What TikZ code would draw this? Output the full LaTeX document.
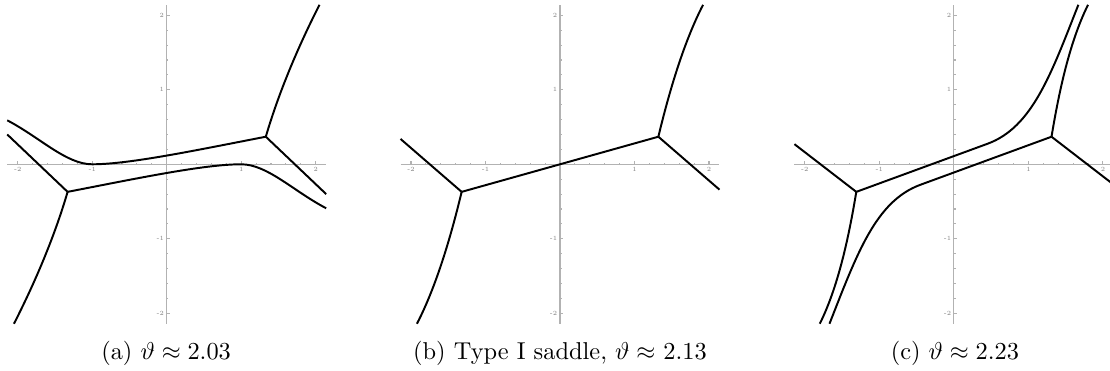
\documentclass[tikz,border=0pt]{standalone}
\usepackage{amsmath}
\usepackage{amssymb}
\usepackage{tikz}

\begin{document}
\begin{tikzpicture}[
  axisline/.style={gray!60, line width=0.45pt},
  curve/.style={black, line width=0.8pt, line join=round},
  ticklab/.style={gray, font=\fontsize{2.6}{3}\selectfont, inner sep=0.3pt}
]
  \useasboundingbox (0,0) rectangle (455.1pt,-152.1pt);

  % axes with ticks, one frame per panel
  \foreach \ox/\p in {68.35pt/a, 229.6pt/b, 391.1pt/c} {
    \begin{scope}[shift={(\ox,-67.36pt)}, x=30.55pt, y=30.55pt]
      \draw[axisline] (-2.14,0) -- (2.14,0);
      \draw[axisline] (0,-2.14) -- (0,2.14);
      \foreach \t in {-2,-1.8,...,2.01} {
        \draw[axisline] (\t,0) -- (\t,0.023);
        \draw[axisline] (0,\t) -- (0.023,\t);
      }
      \foreach \t in {-2,-1,1,2} {
        \draw[axisline] (\t,0) -- (\t,0.045)
          node[ticklab, below] (xl\p\t) at (\t,-0.02) {\t};
        \draw[axisline] (0,\t) -- (0.045,\t)
          node[ticklab, left] (yl\p\t) at (-0.02,\t) {\t};
      }
    \end{scope}
  }

  % panel (a): two separate curves
  \begin{scope}[shift={(68.35pt,-67.36pt)}, x=30.55pt, y=30.55pt]
    \coordinate (Pa) at (1.33,0.37);
    \coordinate (Qa) at (-1.33,-0.37);
    \draw[curve] (Pa) .. controls (1.50,0.95) and (1.75,1.55) .. (2.05,2.14);
    \draw[curve] (Qa) .. controls (-1.50,-0.95) and (-1.75,-1.55) .. (-2.05,-2.14);
    \draw[curve] (Pa) -- (2.14,-0.40);
    \draw[curve] (Qa) -- (-2.14,0.40);
    \draw[curve] (Pa) .. controls (0.4,0.19) and (-0.5,0) .. (-1,0)
      .. controls (-1.35,0) and (-1.7,0.36) .. (-2.14,0.59);
    \draw[curve] (Qa) .. controls (-0.4,-0.19) and (0.5,0) .. (1,0)
      .. controls (1.35,0) and (1.7,-0.36) .. (2.14,-0.59);
  \end{scope}

  % panel (b): saddle, the two joints linked through the origin
  \begin{scope}[shift={(229.6pt,-67.36pt)}, x=30.55pt, y=30.55pt]
    \coordinate (Pb) at (1.32,0.37);
    \coordinate (Qb) at (-1.32,-0.37);
    \draw[curve] (Pb) .. controls (1.44,0.87) and (1.64,1.6) .. (1.92,2.14);
    \draw[curve] (Qb) .. controls (-1.44,-0.87) and (-1.64,-1.6) .. (-1.92,-2.14);
    \draw[curve] (Pb) -- (2.14,-0.34);
    \draw[curve] (Qb) -- (-2.14,0.34);
    \draw[curve] (Qb) -- (Pb);
  \end{scope}

  % panel (c): curves swapped to the other side
  \begin{scope}[shift={(391.1pt,-67.36pt)}, x=30.55pt, y=30.55pt]
    \coordinate (Pc) at (1.31,0.37);
    \coordinate (Qc) at (-1.31,-0.37);
    \draw[curve] (Pc) .. controls (1.39,0.85) and (1.53,1.6) .. (1.80,2.14);
    \draw[curve] (Qc) .. controls (-1.39,-0.85) and (-1.53,-1.6) .. (-1.80,-2.14);
    \draw[curve] (Pc) -- (2.14,-0.27);
    \draw[curve] (Qc) -- (-2.14,0.27);
    \draw[curve] (Qc) -- (0.45,0.275)
      .. controls (1.05,0.495) and (1.3,1.2) .. (1.67,2.14);
    \draw[curve] (Pc) -- (-0.45,-0.275)
      .. controls (-1.05,-0.495) and (-1.3,-1.2) .. (-1.67,-2.14);
  \end{scope}

  % captions
  \node[anchor=base] (capa) at (68.1pt,-147.6pt) {(a) $\vartheta \approx 2.03$};
  \node[anchor=base] (capb) at (229.6pt,-147.6pt) {(b) Type I saddle, $\vartheta \approx$ 2.13};
  \node[anchor=base] (capc) at (391.5pt,-147.6pt) {(c) $\vartheta \approx 2.23$};
\end{tikzpicture}
\end{document}
